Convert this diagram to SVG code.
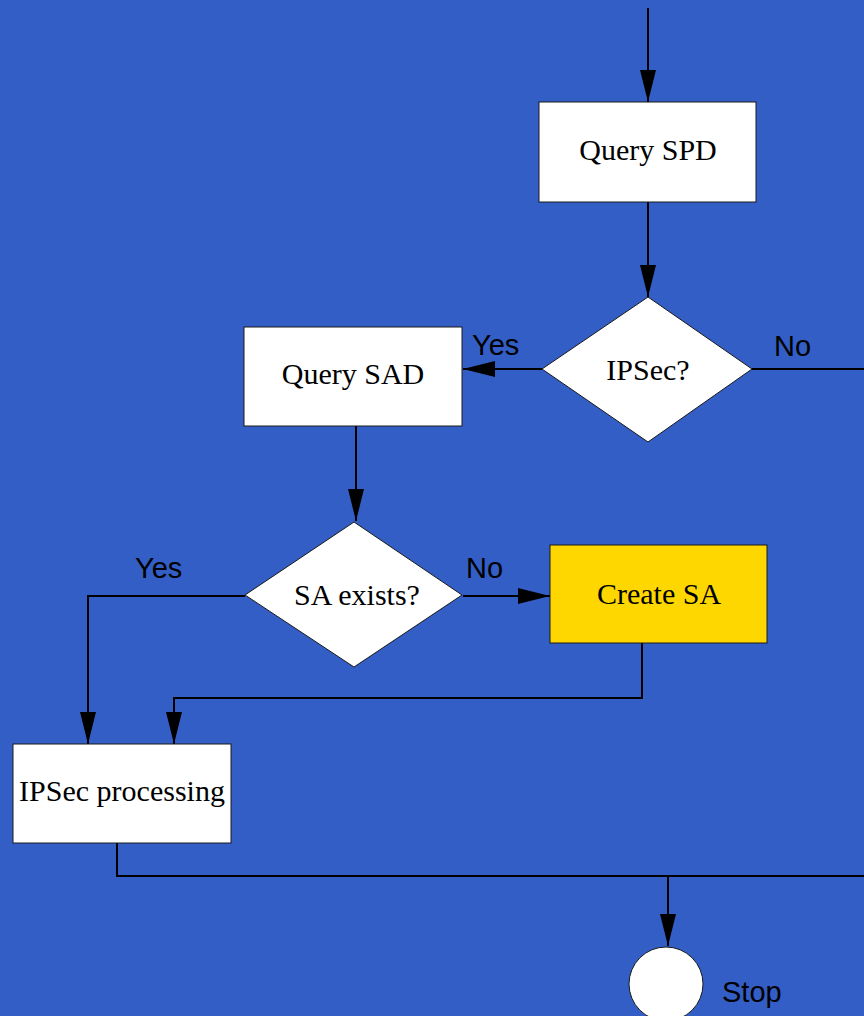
<svg xmlns="http://www.w3.org/2000/svg" width="864" height="1016" viewBox="0 0 864 1016">
  <style>
    .box { fill: #ffffff; stroke: #1a1a1a; stroke-width: 1; }
    .hot { fill: #ffd700; }
    .node-label { font-family: "Liberation Serif", "Times New Roman", serif; font-size: 30px; fill: #000; text-anchor: middle; }
    .edge-label { font-family: "Liberation Sans", Arial, sans-serif; font-size: 29px; fill: #000; }
    .wire { fill: none; stroke: #000; stroke-width: 2; }
  </style>
  <defs>
    <marker id="arrow" markerUnits="userSpaceOnUse" markerWidth="34" markerHeight="18" refX="32" refY="8.5" orient="auto">
      <polygon points="0,0.5 32,8.5 0,16.5" fill="#000"/>
    </marker>
  </defs>

  <rect width="864" height="1016" fill="#335ec5"/>

  <!-- connectors -->
  <g id="connectors">
    <path class="wire" d="M648,8 V102" marker-end="url(#arrow)"/>
    <path class="wire" d="M648,202 V297" marker-end="url(#arrow)"/>
    <path class="wire" d="M542,369 H463" marker-end="url(#arrow)"/>
    <path class="wire" d="M752,369 H864"/>
    <path class="wire" d="M356,426 V521" marker-end="url(#arrow)"/>
    <path class="wire" d="M245,596 H88 V744" marker-end="url(#arrow)"/>
    <path class="wire" d="M463,596 H550" marker-end="url(#arrow)"/>
    <path class="wire" d="M642,643 V698 H174 V744" marker-end="url(#arrow)"/>
    <path class="wire" d="M117,843 V876 H864"/>
    <path class="wire" d="M668,876 V946" marker-end="url(#arrow)"/>
    <text class="edge-label" x="472" y="355">Yes</text>
    <text class="edge-label" x="774" y="356">No</text>
    <text class="edge-label" x="135" y="578">Yes</text>
    <text class="edge-label" x="466" y="578">No</text>
  </g>

  <g id="query-spd">
    <rect class="box" x="539" y="102" width="217" height="100"/>
    <text class="node-label" x="648" y="160">Query SPD</text>
  </g>

  <g id="ipsec-decision">
    <polygon class="box" points="648,297 752,369 648,442 542,369"/>
    <text class="node-label" x="648" y="380">IPSec?</text>
  </g>

  <g id="query-sad">
    <rect class="box" x="244" y="327" width="218" height="99"/>
    <text class="node-label" x="353" y="384">Query SAD</text>
  </g>

  <g id="sa-exists">
    <polygon class="box" points="354,522 462,595 354,667 245,595"/>
    <text class="node-label" x="357" y="605">SA exists?</text>
  </g>

  <g id="create-sa">
    <rect class="box hot" x="550" y="545" width="217" height="98"/>
    <text class="node-label" x="659" y="604">Create SA</text>
  </g>

  <g id="ipsec-processing">
    <rect class="box" x="13" y="744" width="218" height="99"/>
    <text class="node-label" x="122" y="801">IPSec processing</text>
  </g>

  <g id="stop">
    <circle class="box" cx="666" cy="984" r="37"/>
    <text class="edge-label" x="722" y="1002">Stop</text>
  </g>
</svg>
